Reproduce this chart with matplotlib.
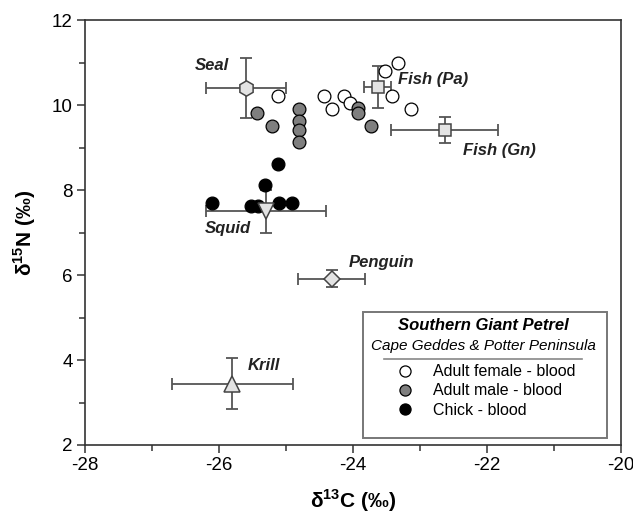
import matplotlib
matplotlib.use("Agg")
import matplotlib.pyplot as plt
from matplotlib.lines import Line2D
from matplotlib.patches import Rectangle
from matplotlib.ticker import MultipleLocator

plt.rcParams["font.family"] = ["Liberation Sans", "DejaVu Sans"]
plt.rcParams["axes.unicode_minus"] = False
plt.rcParams["mathtext.fontset"] = "custom"
plt.rcParams["mathtext.rm"] = "Liberation Sans:bold"
plt.rcParams["mathtext.bf"] = "Liberation Sans:bold"

# petrel blood samples (d13C, d15N)
female_c = [-25.12, -24.43, -24.32, -24.13, -24.04, -23.52, -23.33, -23.42, -23.13]
female_n = [10.21, 10.22, 9.91, 10.22, 10.04, 10.81, 11.00, 10.22, 9.91]
male_c = [-25.43, -25.21, -24.81, -24.81, -24.81, -24.81, -23.93, -23.92, -23.73]
male_n = [9.82, 9.51, 9.91, 9.62, 9.41, 9.14, 9.92, 9.82, 9.51]
chick_c = [-26.11, -25.52, -25.42, -25.11, -24.91, -25.31, -25.12]
chick_n = [7.70, 7.63, 7.63, 7.70, 7.70, 8.12, 8.61]

# prey sources, mean +- sd
prey_names = ["Seal", "Squid", "Penguin", "Krill", "Fish (Pa)", "Fish (Gn)"]
prey_c = [-25.6, -25.3, -24.32, -25.8, -23.63, -22.63]
prey_n = [10.4, 7.5, 5.91, 3.44, 10.42, 9.41]
prey_c_sd = [0.6, 0.9, 0.5, 0.9, 0.2, 0.8]
prey_n_sd = [0.7, 0.5, 0.2, 0.6, 0.5, 0.3]

prey_style = {
    "Seal": ("h", 11),
    "Squid": ("v", 12),
    "Penguin": ("D", 8.5),
    "Krill": ("^", 12),
    "Fish (Pa)": ("s", 8.5),
    "Fish (Gn)": ("s", 8.5),
}
label_pos = {
    "Seal": (-26.1, 10.92),
    "Squid": (-25.87, 7.10),
    "Penguin": (-23.58, 6.30),
    "Krill": (-25.33, 3.86),
    "Fish (Pa)": (-22.80, 10.59),
    "Fish (Gn)": (-21.82, 8.94),
}

legend_labels = ["Adult female - blood", "Adult male - blood", "Chick - blood"]
fills = ["white", "#7f7f7f", "black"]

fig = plt.figure(figsize=(6.33, 5.16), dpi=100)
ax = fig.add_axes([0.1343, 0.1376, 0.8468, 0.8236])

edge = "#555555"
for name, c, n, csd, nsd in zip(prey_names, prey_c, prey_n, prey_c_sd, prey_n_sd):
    ax.errorbar(c, n, xerr=csd, yerr=nsd, fmt="none", ecolor=edge,
                elinewidth=1.3, capsize=4.5, capthick=1.3, zorder=2)

for xs, ys, fc in zip([female_c, male_c, chick_c], [female_n, male_n, chick_n], fills):
    ax.plot(xs, ys, "o", ms=9.2, mfc=fc, mec="black", mew=0.9, ls="none", zorder=3)

for name, c, n in zip(prey_names, prey_c, prey_n):
    mk, ms = prey_style[name]
    ax.plot(c, n, marker=mk, ms=ms, mfc="#e3e3e3", mec="#444444", mew=1.1,
            ls="none", zorder=4)
    lx, ly = label_pos[name]
    ax.text(lx, ly, name, ha="center", va="center", fontsize=12,
            fontweight="bold", fontstyle="italic", color="#222222")

ax.set_xlim(-28, -20)
ax.set_ylim(2, 12)
ax.xaxis.set_major_locator(MultipleLocator(2))
ax.xaxis.set_minor_locator(MultipleLocator(1))
ax.yaxis.set_major_locator(MultipleLocator(2))
ax.yaxis.set_minor_locator(MultipleLocator(1))
ax.tick_params(which="both", direction="out", top=False, right=False,
               color="#333333", width=1.1)
ax.tick_params(which="major", length=6, labelsize=13.5, pad=3)
ax.tick_params(which="minor", length=4)
for sp in ax.spines.values():
    sp.set_color("#333333")
    sp.set_linewidth(1.2)

ax.set_xlabel(r"δ$^{13}$C (‰)", fontsize=15, fontweight="bold", labelpad=9)
ax.set_ylabel(r"δ$^{15}$N (‰)", fontsize=15, fontweight="bold", labelpad=10)

# legend panel
ax.add_patch(Rectangle((0.519, 0.0165), 0.455, 0.2965, transform=ax.transAxes,
                       fill=False, ec="#777777", lw=1.4, zorder=5))
ax.text(0.7425, 0.282, "Southern Giant Petrel", transform=ax.transAxes,
        ha="center", va="center", fontsize=12, fontweight="bold",
        fontstyle="italic", zorder=6)
ax.text(0.7425, 0.233, "Cape Geddes & Potter Peninsula", transform=ax.transAxes,
        ha="center", va="center", fontsize=11, fontstyle="italic", zorder=6)
ax.plot([0.558, 0.927], [0.2016, 0.2016], transform=ax.transAxes,
        color="#888888", lw=1.2, zorder=6)

handles = [Line2D([], [], marker="o", ls="none", ms=8, mfc=fc, mec="black", mew=0.9)
           for fc in fills]
ax.legend(handles, legend_labels, loc="upper left", bbox_to_anchor=(0.568, 0.205),
          frameon=False, fontsize=11.5, handlelength=1.2, handletextpad=1.1,
          labelspacing=0.26, borderaxespad=0)

fig.savefig("out.png", dpi=100)
